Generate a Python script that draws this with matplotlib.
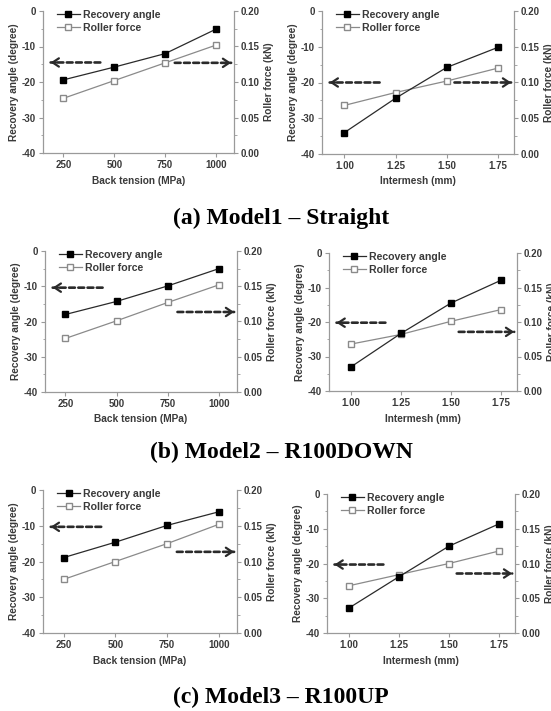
import matplotlib
matplotlib.use("Agg")
import matplotlib.pyplot as plt
from matplotlib.ticker import MultipleLocator, FormatStrFormatter
from matplotlib.lines import Line2D


W = 551
H = 711

tension = [250, 500, 750, 1000]
intermesh = [1.00, 1.25, 1.50, 1.75]

# model1 - straight
m1_tension_angle = [-19.4, -15.8, -12.0, -5.1]
m1_tension_force = [0.077, 0.102, 0.127, 0.152]
m1_mesh_angle = [-34.0, -24.4, -15.8, -10.2]
m1_mesh_force = [0.068, 0.086, 0.102, 0.120]

# model2 - r100down
m2_tension_angle = [-18.0, -14.3, -9.9, -5.0]
m2_tension_force = [0.076, 0.101, 0.127, 0.152]
m2_mesh_angle = [-33.0, -23.3, -14.5, -7.9]
m2_mesh_force = [0.068, 0.082, 0.101, 0.118]

# model3 - r100up
m3_tension_angle = [-18.9, -14.6, -9.9, -6.1]
m3_tension_force = [0.075, 0.100, 0.125, 0.152]
m3_mesh_angle = [-32.8, -23.8, -15.0, -8.6]
m3_mesh_force = [0.068, 0.084, 0.100, 0.118]

captions = ["(a) Model1 \u2013 Straight", "(b) Model2 \u2013 R100DOWN", "(c) Model3 \u2013 R100UP"]

DARK = "#2a2a2a"
LIGHT = "#8a8a8a"
SPINE = "#9a9a9a"
TXT = "#3a3a3a"


def px_rect(left, top, right, bottom):
    return [left / W, 1 - bottom / H, (right - left) / W, (bottom - top) / H]


def dashed_arrow(ax, x_tail, x_head, y):
    xc = ("axes fraction", "data")
    ax.annotate("", xy=(x_head, y), xytext=(x_tail, y), xycoords=xc, textcoords=xc,
                arrowprops=dict(arrowstyle="-", linestyle=(0, (2.2, 1.3)), lw=1.9,
                                color=DARK, shrinkA=0, shrinkB=0))
    step = 0.03 if x_head > x_tail else -0.03
    ax.annotate("", xy=(x_head, y), xytext=(x_head - step, y), xycoords=xc, textcoords=xc,
                arrowprops=dict(arrowstyle="->,head_length=0.45,head_width=0.3", lw=1.6,
                                color=DARK, shrinkA=0, shrinkB=0))


def panel(fig, rect, x, angle, force, xlabel, xlim, xfmt, larr_y, rarr_y):
    ax = fig.add_axes(rect)
    ax2 = ax.twinx()

    ax.plot(x, angle, color=DARK, lw=0.9, marker="s", ms=3.8, mfc="black", mec="black")
    ax2.plot(x, force, color=LIGHT, lw=0.9, marker="s", ms=3.8, mfc="white", mec=LIGHT)

    ax.set_xlim(*xlim)
    ax.set_xticks(x)
    ax.xaxis.set_major_formatter(FormatStrFormatter(xfmt))
    ax.set_ylim(-40, 0)
    ax.yaxis.set_major_locator(MultipleLocator(10))
    ax.yaxis.set_minor_locator(MultipleLocator(5))
    ax2.set_ylim(0, 0.2)
    ax2.yaxis.set_major_locator(MultipleLocator(0.05))
    ax2.yaxis.set_minor_locator(MultipleLocator(0.025))
    ax2.yaxis.set_major_formatter(FormatStrFormatter("%.2f"))

    for a in (ax, ax2):
        a.spines["top"].set_visible(False)
        for s in ("left", "right", "bottom"):
            a.spines[s].set_color(SPINE)
            a.spines[s].set_linewidth(0.9)
        a.tick_params(which="both", color=SPINE, labelcolor=TXT, labelsize=7, pad=2)
        a.tick_params(which="major", length=3)
        a.tick_params(which="minor", length=1.8)
        for lab in a.get_xticklabels() + a.get_yticklabels():
            lab.set_fontweight("bold")
    ax.spines["right"].set_visible(False)
    ax2.spines["left"].set_visible(False)
    ax2.spines["bottom"].set_visible(False)

    ax.set_xlabel(xlabel, fontsize=7.3, fontweight="bold", color=TXT, labelpad=4)
    ax.set_ylabel("Recovery angle (degree)", fontsize=7.3, fontweight="bold", color=TXT, labelpad=2)
    ax2.set_ylabel("Roller force (kN)", fontsize=7.3, fontweight="bold", color=TXT, labelpad=3)

    handles = [
        Line2D([], [], color=DARK, lw=0.9, marker="s", ms=3.8, mfc="black", mec="black"),
        Line2D([], [], color=LIGHT, lw=0.9, marker="s", ms=3.8, mfc="white", mec=LIGHT),
    ]
    leg = ax.legend(handles, ["Recovery angle", "Roller force"], loc="upper left",
                    bbox_to_anchor=(0.05, 1.04), frameon=False, fontsize=7.6,
                    handlelength=2.2, handletextpad=0.3, labelspacing=0.3, borderaxespad=0)
    for t in leg.get_texts():
        t.set_fontweight("bold")
        t.set_color(TXT)
    ax.set_zorder(ax2.get_zorder() + 1)
    ax.patch.set_visible(False)

    dashed_arrow(ax, 0.30, 0.04, larr_y)
    dashed_arrow(ax2, 0.69, 0.985, rarr_y)


def main():
    plt.rcParams["font.family"] = ["Liberation Sans", "DejaVu Sans"]
    plt.rcParams["axes.unicode_minus"] = False
    fig = plt.figure(figsize=(W / 100, H / 100), dpi=100)

    panel(fig, px_rect(43, 11, 234, 153), tension, m1_tension_angle, m1_tension_force,
          "Back tension (MPa)", (150, 1088), "%d", -14.5, 0.127)
    panel(fig, px_rect(322, 11, 514, 154), intermesh, m1_mesh_angle, m1_mesh_force,
          "Intermesh (mm)", (0.89, 1.83), "%.2f", -20.0, 0.100)

    panel(fig, px_rect(45, 251, 237, 392), tension, m2_tension_angle, m2_tension_force,
          "Back tension (MPa)", (150, 1088), "%d", -10.4, 0.1135)
    panel(fig, px_rect(329, 253, 517, 391), intermesh, m2_mesh_angle, m2_mesh_force,
          "Intermesh (mm)", (0.89, 1.83), "%.2f", -20.2, 0.0857)

    panel(fig, px_rect(43, 490, 237, 633), tension, m3_tension_angle, m3_tension_force,
          "Back tension (MPa)", (150, 1088), "%d", -10.3, 0.1135)
    panel(fig, px_rect(327, 494, 515, 633), intermesh, m3_mesh_angle, m3_mesh_force,
          "Intermesh (mm)", (0.89, 1.83), "%.2f", -20.3, 0.0856)

    for cap, y in zip(captions, [218, 452, 697]):
        fig.text(281 / W, 1 - y / H, cap, ha="center", va="center",
                 fontfamily="Liberation Serif", fontweight="bold", fontsize=17, color="black")

    fig.savefig("out.png", dpi=100)
    plt.close(fig)


if __name__ == "__main__":
    main()
